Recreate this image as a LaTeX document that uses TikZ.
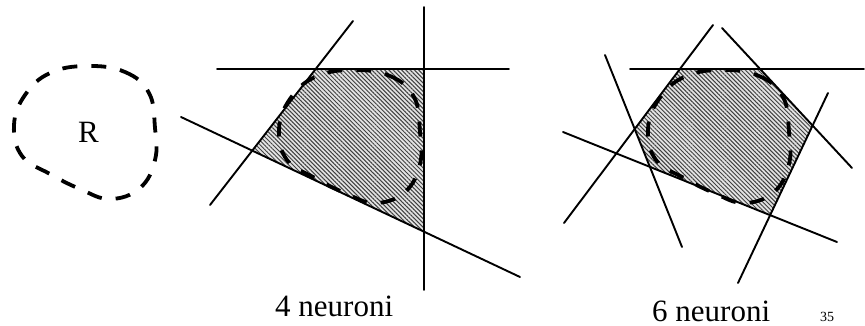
\documentclass[tikz,border=0pt]{standalone}
\usepackage{fontspec}
\setmainfont{Liberation Serif}
\usetikzlibrary{patterns.meta}
\tikzset{
  ln/.style={line width=1.9pt, line cap=round},
  region/.style={line width=3.8pt, dash pattern=on 15pt off 14pt},
  hatchfill/.style={fill=gray!22},
  hatchlines/.style={pattern={Lines[angle=-45,distance=3pt,line width=1pt]}, pattern color=black!75},
  lbl/.style={inner sep=0pt, font=\fontsize{31}{36}\selectfont},
  small/.style={inner sep=0pt, font=\fontsize{14}{16}\selectfont},
  rshape/.pic={\draw[region] plot[smooth cycle, tension=0.7] coordinates {(87,66) (125,72) (149,93) (155,128) (155,160) (140,188) (110,199) (80,189) (50,174) (22,156) (14,125) (25,95) (50,73)};}
}
\begin{document}
\begin{tikzpicture}[x=1pt,y=-1pt]
\useasboundingbox (0,0) rectangle (865,326);
% left region R
\pic (r0) at (0,0) {rshape};
\node[lbl, anchor=base] (rl) at (88.5,143) {R};

% middle: 4 neurons
\coordinate (mh1) at (217,69);  \coordinate (mh2) at (509,69);
\coordinate (mv1) at (424,7);   \coordinate (mv2) at (424,290);
\coordinate (ms1) at (353,21);  \coordinate (ms2) at (210,205);
\coordinate (ml1) at (181,117); \coordinate (ml2) at (520,277);
\coordinate (p1) at (intersection of mh1--mh2 and ms1--ms2);
\coordinate (p2) at (intersection of mh1--mh2 and mv1--mv2);
\coordinate (p3) at (intersection of mv1--mv2 and ml1--ml2);
\coordinate (p4) at (intersection of ml1--ml2 and ms1--ms2);
\fill[hatchfill] (p1) -- (p2) -- (p3) -- (p4) -- cycle;
\fill[hatchlines] (p1) -- (p2) -- (p3) -- (p4) -- cycle;
\pic (r1) at (265,4) {rshape};
\draw[ln] (mh1) -- (mh2);
\draw[ln] (mv1) -- (mv2);
\draw[ln] (ms1) -- (ms2);
\draw[ln] (ml1) -- (ml2);
\node[lbl, anchor=base west] (c4) at (275,316) {4 neuroni};

% right: 6 neurons
\coordinate (a1) at (713,25);  \coordinate (a2) at (564,223);
\coordinate (b1) at (722,28);  \coordinate (b2) at (852,168);
\coordinate (c1) at (605,55);  \coordinate (c2) at (682,247);
\coordinate (d1) at (563,132); \coordinate (d2) at (837,242);
\coordinate (e1) at (828,93);  \coordinate (e2) at (738,283);
\coordinate (h1) at (630,69);  \coordinate (h2) at (864,69);
\coordinate (q1) at (intersection of h1--h2 and a1--a2);
\coordinate (q2) at (intersection of h1--h2 and b1--b2);
\coordinate (q3) at (intersection of b1--b2 and e1--e2);
\coordinate (q4) at (intersection of e1--e2 and d1--d2);
\coordinate (q5) at (intersection of d1--d2 and c1--c2);
\coordinate (q6) at (intersection of c1--c2 and a1--a2);
\fill[hatchfill] (q1) -- (q2) -- (q3) -- (q4) -- (q5) -- (q6) -- cycle;
\fill[hatchlines] (q1) -- (q2) -- (q3) -- (q4) -- (q5) -- (q6) -- cycle;
\pic (r2) at (634,4) {rshape};
\draw[ln] (a1) -- (a2);
\draw[ln] (b1) -- (b2);
\draw[ln] (c1) -- (c2);
\draw[ln] (d1) -- (d2);
\draw[ln] (e1) -- (e2);
\draw[ln] (h1) -- (h2);
\node[lbl, anchor=base west] (c6) at (652,321) {6 neuroni};
\node[small, anchor=base west] (pg) at (820,321) {35};
\end{tikzpicture}
\end{document}
